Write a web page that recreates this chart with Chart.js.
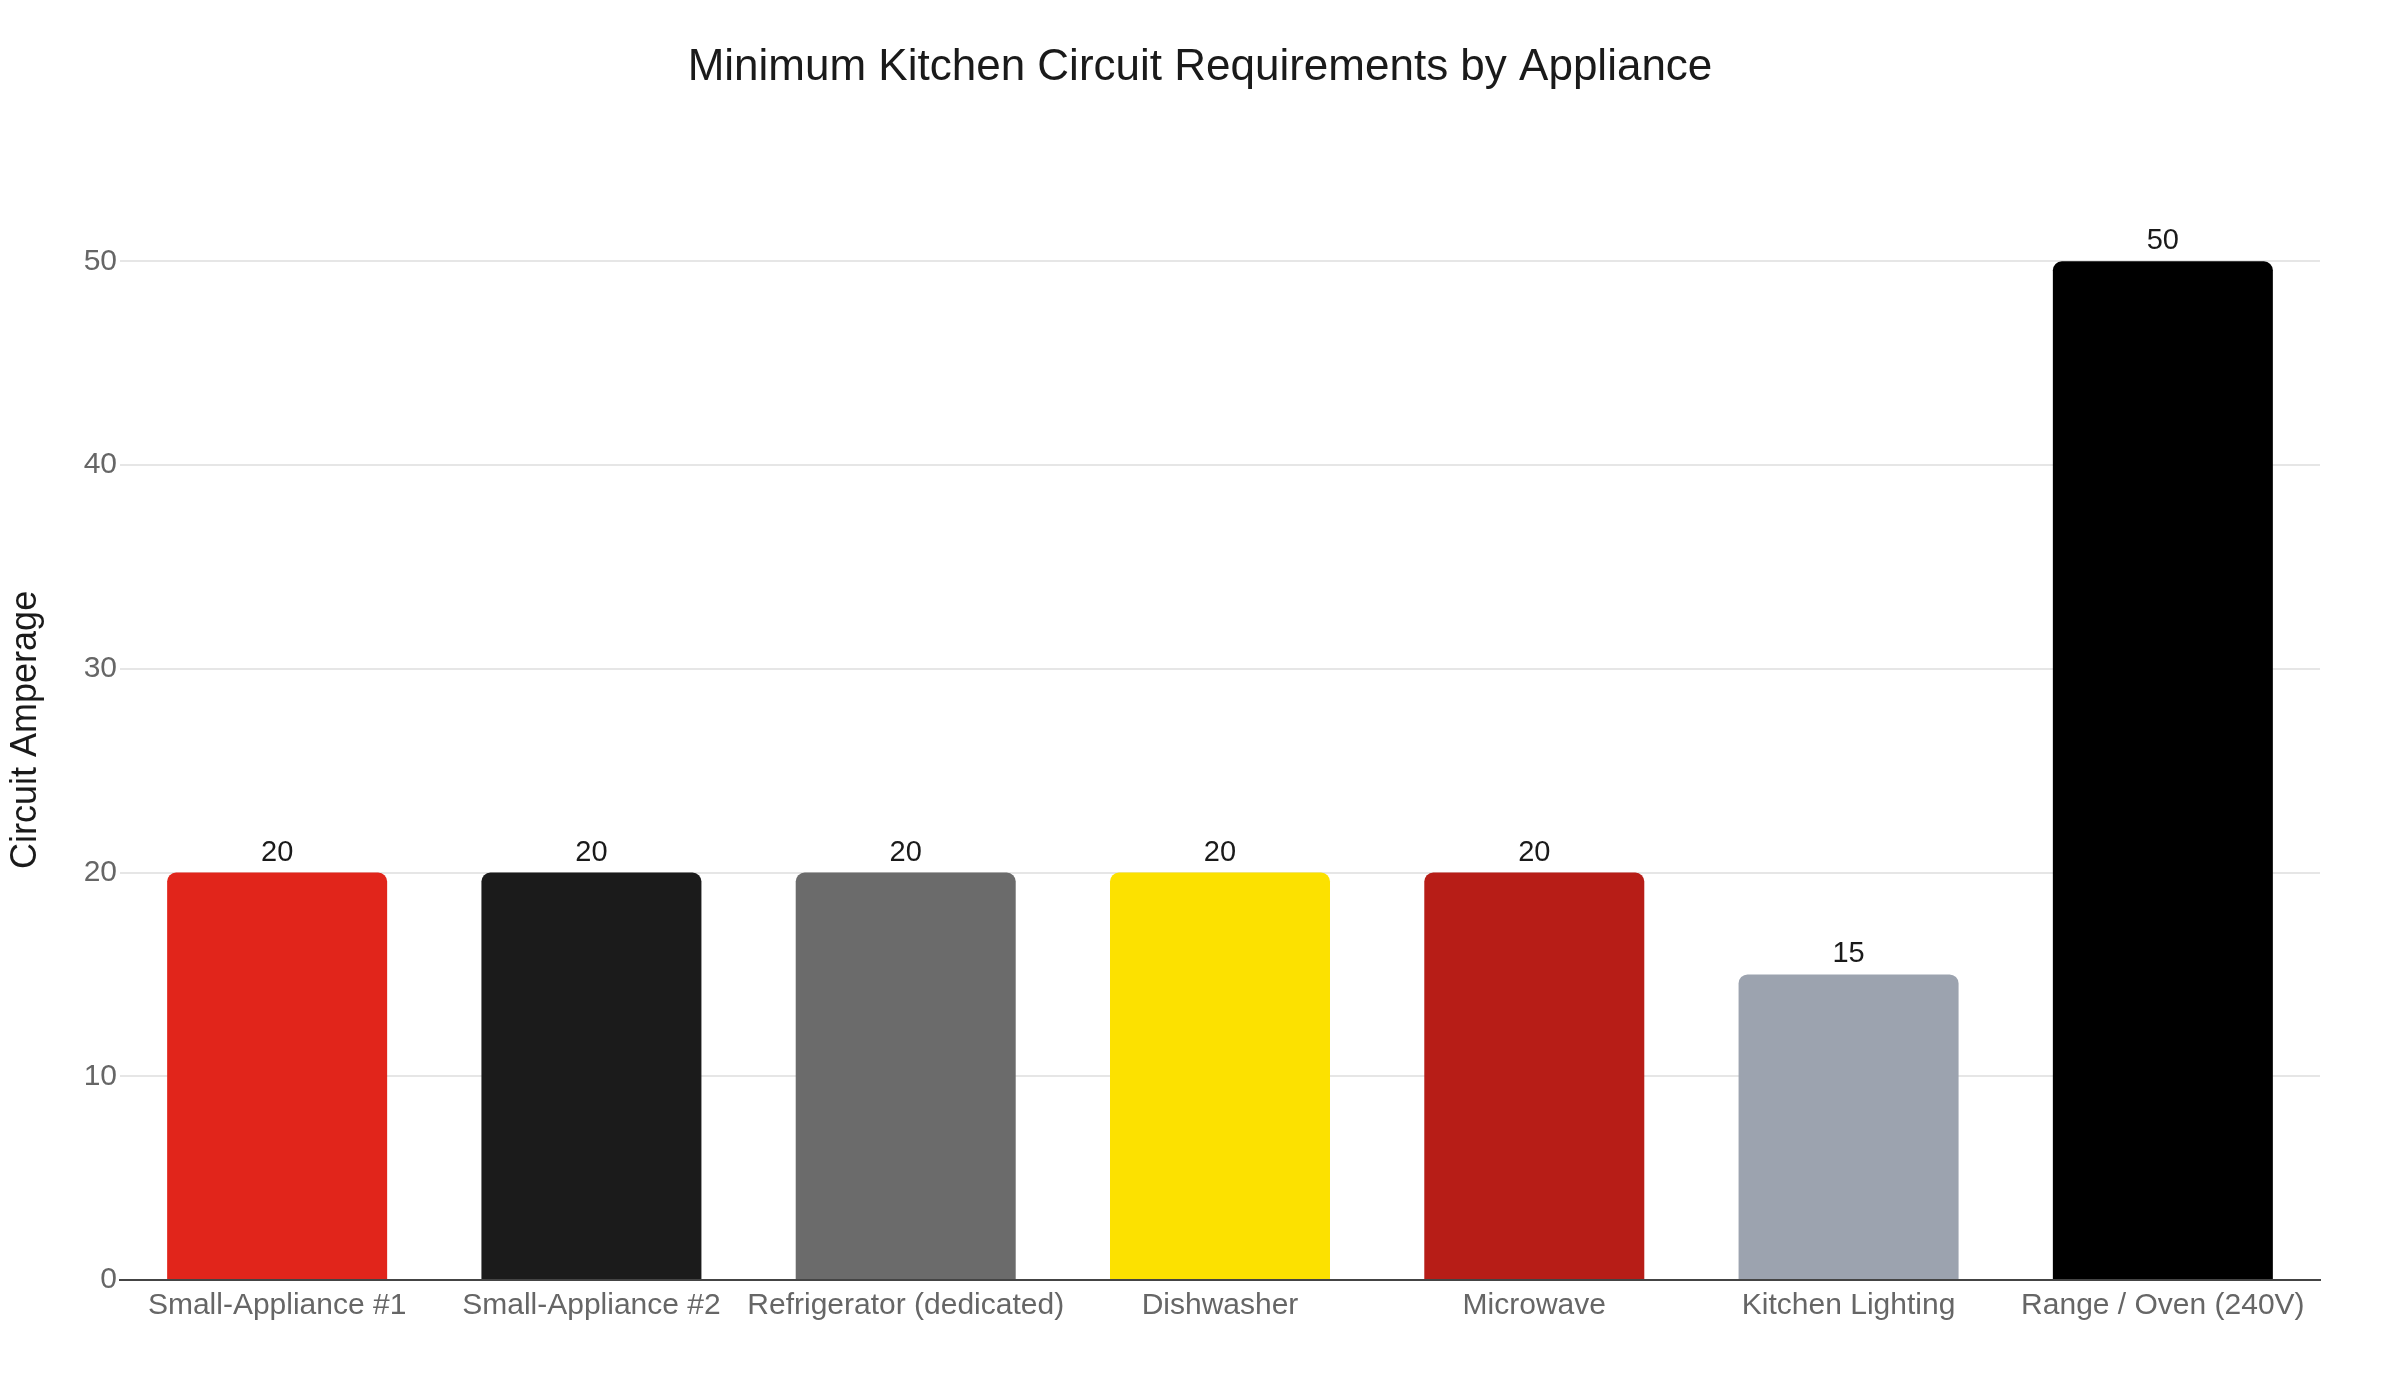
<!DOCTYPE html>
<html>
<head>
<meta charset="utf-8">
<script src="https://cdn.jsdelivr.net/npm/chart.js@4.4.1/dist/chart.umd.min.js"></script>
<style>
  html, body { margin: 0; padding: 0; background: #ffffff; }
  #wrap { width: 2400px; height: 1400px; position: relative; }
</style>
</head>
<body>
<div id="wrap"><canvas id="c" width="2400" height="1400"></canvas></div>
<script>
const categories = ["Small-Appliance #1", "Small-Appliance #2", "Refrigerator (dedicated)", "Dishwasher", "Microwave", "Kitchen Lighting", "Range / Oven (240V)"];
const amperage = [20, 20, 20, 20, 20, 15, 50];
const barColors = ["#E1251B", "#1B1B1B", "#6B6B6B", "#FCE100", "#B71D17", "#9CA3AF", "#000000"];
const yTicks = [0, 10, 20, 30, 40, 50];
const chartTitle = "Minimum Kitchen Circuit Requirements by Appliance";
const yTitle = "Circuit Amperage";

const FONT = "'Liberation Sans', Arial, Helvetica, sans-serif";

const valueLabels = {
  id: 'valueLabels',
  afterDatasetsDraw(chart) {
    const ctx = chart.ctx;
    const meta = chart.getDatasetMeta(0);
    ctx.save();
    ctx.font = "29px " + FONT;
    ctx.fillStyle = "#1a1a1a";
    ctx.textAlign = "center";
    ctx.textBaseline = "alphabetic";
    meta.data.forEach((bar, i) => {
      ctx.fillText(String(amperage[i]), bar.x, bar.y - 12);
    });
    ctx.restore();
  }
};

new Chart(document.getElementById('c'), {
  type: 'bar',
  data: {
    labels: categories,
    datasets: [{
      data: amperage,
      backgroundColor: barColors,
      borderWidth: 0,
      borderRadius: 9,
      borderSkipped: 'start',
      barPercentage: 0.7,
      categoryPercentage: 1.0
    }]
  },
  options: {
    responsive: false,
    animation: false,
    devicePixelRatio: 1,
    layout: { padding: { left: 0, right: 0, top: 0, bottom: 0 } },
    plugins: {
      legend: { display: false },
      tooltip: { enabled: false },
      title: {
        display: true,
        text: chartTitle,
        color: "#1a1a1a",
        font: { family: FONT, size: 44, weight: 'normal', lineHeight: 1.2 },
        padding: { top: 41, bottom: 86 }
      }
    },
    scales: {
      x: {
        grid: { display: false, drawTicks: false },
        border: { display: true, color: "#444444", width: 2 },
        ticks: {
          color: "#666666",
          font: { family: FONT, size: 30 },
          padding: 8,
          maxRotation: 0,
          autoSkip: false
        },
        afterFit(scale) { scale.height = 120; }
      },
      y: {
        min: 0,
        max: 54,
        afterBuildTicks(scale) { scale.ticks = yTicks.map(v => ({ value: v })); },
        grid: { color: "#e6e6e6", lineWidth: 2, drawTicks: false },
        border: { display: false },
        ticks: {
          color: "#666666",
          font: { family: FONT, size: 30 },
          padding: 3
        },
        title: {
          display: true,
          text: yTitle,
          color: "#1a1a1a",
          font: { family: FONT, size: 36 },
          padding: { top: 4, bottom: 0 }
        },
        afterFit(scale) { scale.width = 120; }
      },
      yRight: {
        position: 'right',
        min: 0,
        max: 54,
        display: true,
        grid: { display: false, drawTicks: false },
        border: { display: false },
        ticks: { display: false },
        afterFit(scale) { scale.width = 80; }
      }
    }
  },
  plugins: [valueLabels]
});
</script>
</body>
</html>
